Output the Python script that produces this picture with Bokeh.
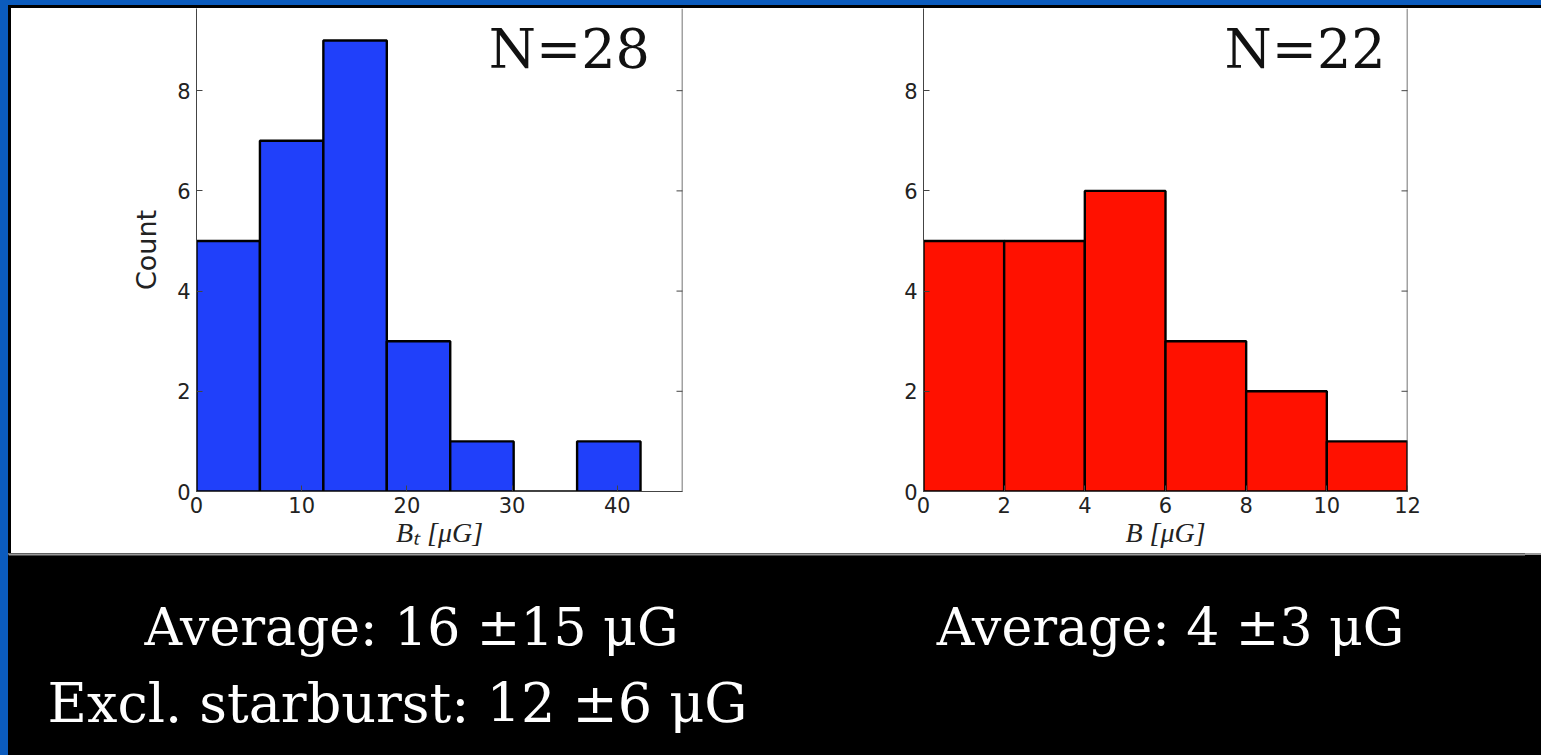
from bokeh.plotting import figure
from bokeh.models import Range1d, FixedTicker, Label, Span, Div
from bokeh.layouts import column, row
from bokeh.embed import file_html
from bokeh.resources import INLINE
from bokeh.core.properties import value

# ---- data ----
left_edges = [0, 6.03, 12.06, 18.09, 24.12, 30.15, 36.18, 42.21]
left_counts = [5, 7, 9, 3, 1, 0, 1]
right_edges = [0, 2, 4, 6, 8, 10, 12]
right_counts = [5, 5, 6, 3, 2, 1]
left_xticks = [0, 10, 20, 30, 40]
right_xticks = [0, 2, 4, 6, 8, 10, 12]
yticks = [0, 2, 4, 6, 8]
left_xlabel = "Bₜ [μG]"
right_xlabel = "B [μG]"
ylabel = "Count"
left_n = "N=28"
right_n = "N=22"
left_lines = ["Average: 16 ±15 μG", "Excl. starburst: 12 ±6 μG"]
right_lines = ["Average: 4 ±3 μG"]

BLUE = "#2040fa"
RED = "#ff1100"
TXT = "#222222"
SPINE = "#444444"
SLIDE = "#0b5bbd"


def make_hist(edges, counts, color, xmax, xticks, xlabel, ylab, width,
              mbl, mbr, ntext, nx):
    p = figure(width=width, height=545,
               x_range=Range1d(0, xmax), y_range=Range1d(0, 9.64),
               output_backend="svg", toolbar_location=None,
               min_border_left=mbl, min_border_right=mbr,
               min_border_top=0, min_border_bottom=62,
               background_fill_color="white", border_fill_color="white",
               outline_line_color=None)
    p.grid.visible = False
    p.quad(left=edges[:-1], right=edges[1:], bottom=0, top=counts,
           fill_color=color, line_color="black", line_width=2.4)

    xa = p.xaxis[0]
    xa.ticker = FixedTicker(ticks=xticks)
    ya = p.yaxis[0]
    ya.ticker = FixedTicker(ticks=yticks)
    for ax in (xa, ya):
        ax.major_tick_in = 6
        ax.major_tick_out = 0
        ax.minor_tick_line_color = None
        ax.axis_line_color = SPINE
        ax.major_tick_line_color = SPINE
        ax.major_label_text_font = "DejaVu Sans"
        ax.major_label_text_font_size = "21px"
        ax.major_label_text_color = TXT
    xa.major_label_standoff = 5
    ya.major_label_standoff = 6
    xa.axis_label = xlabel
    xa.axis_label_text_font = "Liberation Serif"
    xa.axis_label_text_font_style = "italic"
    xa.axis_label_text_font_size = "28px"
    xa.axis_label_text_color = TXT
    xa.axis_label_standoff = 1
    if ylab:
        ya.axis_label = ylab
        ya.axis_label_text_font = "DejaVu Sans"
        ya.axis_label_text_font_style = "normal"
        ya.axis_label_text_font_size = "27px"
        ya.axis_label_text_color = TXT
        ya.axis_label_standoff = 12

    # right spine with inward ticks (matplotlib classic style)
    p.add_layout(Span(location=xmax, dimension="height",
                      line_color=SPINE, line_width=1.5))
    p.scatter(x=[xmax] * len(yticks), y=yticks, marker="dash", size=12,
              line_color=SPINE, line_width=1)

    p.add_layout(Label(x=nx, y=8.82, text=ntext, text_align="right",
                       text_baseline="alphabetic", text_font="DejaVu Serif",
                       text_font_size="54px", text_color="#111111"))
    return p


pl = make_hist(left_edges, left_counts, BLUE, 46.2, left_xticks, left_xlabel,
               ylabel, 759, 185, 88, left_n, 43.1)
pr = make_hist(right_edges, right_counts, RED, 12, right_xticks, right_xlabel,
               None, 755, 153, 118, right_n, 11.46)

pb = figure(width=1517, height=186, x_range=Range1d(8, 1525),
            y_range=Range1d(739, 553), output_backend="svg",
            toolbar_location=None, min_border=0,
            x_axis_location=None, y_axis_location=None,
            background_fill_color="black", border_fill_color="black",
            outline_line_color=None)
pb.grid.visible = False
pb.add_layout(Span(location=554, dimension="width", line_color="#9a9a9a",
                   line_width=2))
pb.text(x=[411], y=[626], text=[left_lines[0]],
        text_font=value("DejaVu Serif"), text_font_size="52px",
        text_color="white", text_align="center", text_baseline="middle")
pb.text(x=[397], y=[703], text=[left_lines[1]],
        text_font=value("DejaVu Serif"), text_font_size="54px",
        text_color="white", text_align="center", text_baseline="middle")
pb.text(x=[1170], y=[626], text=right_lines,
        text_font=value("DejaVu Serif"), text_font_size="52px",
        text_color="white", text_align="center", text_baseline="middle")


def block(w, h, color):
    return Div(text="", width=w, height=h, margin=0,
               styles={"background-color": color})


panel = column(block(1517, 3, "black"),
               row(block(3, 545, "black"), pl, pr),
               pb)
layout = column(block(1525, 5, SLIDE),
                row(block(8, 734, SLIDE), panel))

html = file_html(layout, INLINE)
css = ("<style>html,body{background:"
       "linear-gradient(to right," + SLIDE + " 0px," + SLIDE + " 8px,"
       "transparent 8px) no-repeat,"
       "linear-gradient(to bottom,"
       + SLIDE + " 0px," + SLIDE + " 5px,black 5px,black 8px,white 8px,"
       "white 553px,#9a9a9a 553px,#9a9a9a 555px,black 555px) no-repeat;"
       "background-color:black;}</style></head>")
html = html.replace("</head>", css, 1)
open("out.html", "w").write(html)
